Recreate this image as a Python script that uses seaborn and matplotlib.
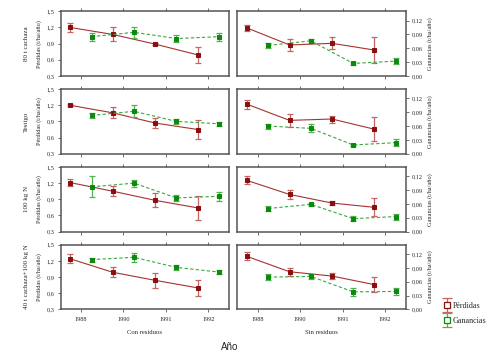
import numpy as np
import pandas as pd
import matplotlib
matplotlib.use("Agg")
import matplotlib.pyplot as plt
from matplotlib.container import ErrorbarContainer
from matplotlib.legend_handler import HandlerErrorbar
import seaborn as sns

# data
years = ["1988", "1990", "1991", "1992"]
rows = ["80 t cachaza", "Testigo", "100 kg N", "40 t cachaza+100 kg N"]
cols = ["Con residuos", "Sin residuos"]

# Pérdidas (left axis), per row: [con residuos, sin residuos]
perd = [
    [[1.20, 1.07, 0.89, 0.69], [1.19, 0.875, 0.905, 0.78]],
    [[1.20, 1.06, 0.87, 0.75], [1.22, 0.92, 0.945, 0.755]],
    [[1.21, 1.05, 0.88, 0.74], [1.25, 0.99, 0.83, 0.75]],
    [[1.24, 0.99, 0.84, 0.70], [1.285, 1.00, 0.92, 0.76]],
]
perd_err = [
    [[0.08, 0.13, 0.012, 0.145], [0.055, 0.115, 0.11, 0.235]],
    [[0.015, 0.10, 0.10, 0.18], [0.08, 0.12, 0.065, 0.22]],
    [[0.07, 0.09, 0.13, 0.22], [0.075, 0.09, 0.045, 0.17]],
    [[0.085, 0.095, 0.145, 0.15], [0.075, 0.075, 0.055, 0.145]],
]
# Ganancias (right axis)
gan = [
    [[0.085, 0.0945, 0.081, 0.085], [0.066, 0.076, 0.027, 0.032]],
    [[0.083, 0.092, 0.070, 0.065], [0.060, 0.055, 0.019, 0.024]],
    [[0.097, 0.105, 0.073, 0.0765], [0.050, 0.059, 0.028, 0.0325]],
    [[0.108, 0.113, 0.091, 0.081], [0.070, 0.0715, 0.038, 0.039]],
]
gan_err = [
    [[0.0085, 0.0115, 0.008, 0.0085], [0.006, 0.005, 0.003, 0.007]],
    [[0.006, 0.013, 0.006, 0.0045], [0.0055, 0.0088, 0.002, 0.0077]],
    [[0.023, 0.0075, 0.007, 0.01], [0.0045, 0.003, 0.0054, 0.0065]],
    [[0.0043, 0.0093, 0.005, 0.005], [0.0064, 0.0054, 0.009, 0.007]],
]

left_ticks = [0.3, 0.6, 0.9, 1.2, 1.5]
left_labels = ["0,3", "0,6", "0,9", "1,2", "1,5"]
right_ticks = [0.0, 0.03, 0.06, 0.09, 0.12]
right_labels = ["0,00", "0,03", "0,06", "0,09", "0,12"]

red_m, red_l, red_e = "#8a0f0f", "#a83232", "#c46464"
grn_m, grn_l, grn_e = "#0b8a0b", "#3aa83a", "#52b052"
frame = "#555555"
serif = ["Liberation Serif", "DejaVu Serif"]

sns.set_style("white")
plt.rcParams["font.family"] = serif

fig, axes = plt.subplots(4, 2, figsize=(5, 3.54), dpi=100)
plt.subplots_adjust(left=0.121, right=0.811, bottom=0.126, top=0.968,
                    wspace=0.051, hspace=0.206)

xpos = np.arange(len(years))
twins = {}
for r in range(4):
    for c in range(2):
        ax = axes[r, c]
        tw = ax.twinx()
        twins[r, c] = tw

        dp = pd.DataFrame({"x": xpos - 0.25, "y": perd[r][c]})
        dg = pd.DataFrame({"x": xpos + 0.25, "y": gan[r][c]})

        ax.errorbar(dp["x"], dp["y"], yerr=perd_err[r][c], fmt="none",
                    ecolor=red_e, elinewidth=0.9, capsize=2.2, capthick=0.9, zorder=2)
        sns.lineplot(data=dp, x="x", y="y", ax=ax, color=red_l, linewidth=0.8,
                     marker="s", markersize=3.2, markerfacecolor=red_m,
                     markeredgecolor=red_m, zorder=3)
        tw.errorbar(dg["x"], dg["y"], yerr=gan_err[r][c], fmt="none",
                    ecolor=grn_e, elinewidth=0.9, capsize=2.2, capthick=0.9, zorder=2)
        sns.lineplot(data=dg, x="x", y="y", ax=tw, color=grn_l, linewidth=0.8,
                     linestyle=(0, (3, 2)), marker="s", markersize=3.2,
                     markerfacecolor=grn_m, markeredgecolor=grn_m, zorder=3)

        ax.set_xticks(xpos)
        ax.set_yticks(left_ticks)
        tw.set_yticks(right_ticks)
        ax.set_xlabel("")
        ax.set_ylabel("")
        tw.set_ylabel("")

        for sp in tw.spines.values():
            sp.set_visible(False)
        for sp in ax.spines.values():
            sp.set_visible(True)
            sp.set_color(frame)
            sp.set_linewidth(1.1)

        ax.tick_params(axis="x", which="both", direction="out", length=2.5,
                       width=0.6, color=frame, top=True, bottom=True,
                       labelsize=4.5, pad=3)
        if r == 3:
            ax.set_xticklabels(years)
            ax.set_xlabel(cols[c], fontsize=4.8, labelpad=6)
        else:
            ax.set_xticklabels([])

        if c == 0:
            ax.tick_params(axis="y", direction="out", length=2.5, width=0.6,
                           color=frame, left=True, labelsize=4.5, pad=2)
            ax.set_yticklabels(left_labels)
            ax.set_ylabel("Pérdidas (t/ha/año)", fontsize=4.5, labelpad=3)
            ax.text(-0.2, 0.5, rows[r], rotation=90, fontsize=5,
                    ha="center", va="center", transform=ax.transAxes)
            tw.tick_params(axis="y", right=False, labelright=False)
        else:
            ax.tick_params(axis="y", left=False, labelleft=False)
            tw.tick_params(axis="y", direction="out", length=2.5, width=0.6,
                           color=frame, right=True, labelsize=4.5, pad=2)
            tw.set_yticklabels(right_labels)
            tw.set_ylabel("Ganancias (t/ha/año)", fontsize=4.5, labelpad=3)

# legend handles: errorbar artists placed outside the visible range
ax0 = axes[0, 0]
h1 = ax0.errorbar([-10], [1.0], yerr=[0.1], fmt="s", color=red_m, ecolor=red_e,
                  mfc="white", mec=red_m, ms=4.2, mew=0.9, elinewidth=0.9,
                  capsize=3.5, capthick=0.9)
h2 = ax0.errorbar([-10], [1.0], yerr=[0.1], fmt="s", color=grn_m, ecolor=grn_e,
                  mfc="white", mec=grn_m, ms=4.2, mew=0.9, elinewidth=0.9,
                  capsize=3.5, capthick=0.9)

for r in range(4):
    for c in range(2):
        axes[r, c].set_xlim(-0.48, 3.48)
        axes[r, c].set_ylim(0.3, 1.5)
        twins[r, c].set_ylim(0.0, 0.14)

fig.text(0.46, 0.02, "Año", fontsize=7, family=["Liberation Sans", "DejaVu Sans"],
         ha="center", va="center")

fig.legend([h1, h2], ["Pérdidas", "Ganancias"], loc="center left",
           bbox_to_anchor=(0.878, 0.115), frameon=False, fontsize=5.8,
           handlelength=0.9, handletextpad=0.35, labelspacing=0.8, borderpad=0,
           handler_map={ErrorbarContainer: HandlerErrorbar(xerr_size=0.5, yerr_size=0.85)})

fig.savefig("out.png", dpi=100)
